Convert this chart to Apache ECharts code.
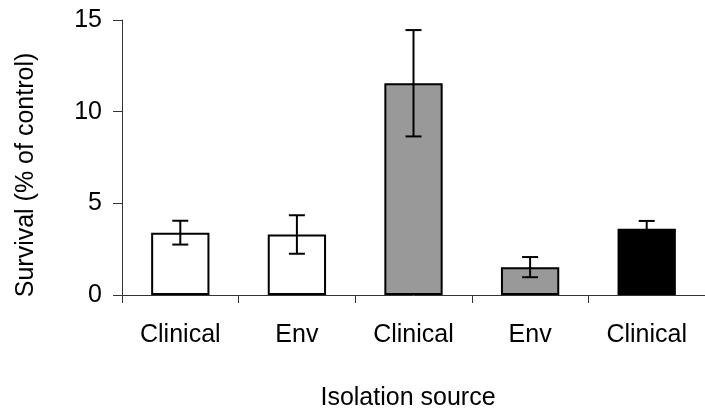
<!DOCTYPE html>
<html>
<head>
<meta charset="utf-8">
<script src="https://cdn.jsdelivr.net/npm/echarts@6/dist/echarts.min.js"></script>
<style>html,body{margin:0;padding:0;background:#fff}#c{width:705px;height:414px}</style>
</head>
<body>
<div id="c"></div>
<script>
const categories = ['Clinical', 'Env', 'Clinical', 'Env', 'Clinical'];
const values = [3.4, 3.3, 11.55, 1.52, 3.62];
const errors = [0.65, 1.05, 2.9, 0.55, 0.42];
const barColors = ['#ffffff', '#ffffff', '#999999', '#999999', '#000000'];
const yTicks = [0, 5, 10, 15];
const yTitle = 'Survival (% of control)';
const xTitle = 'Isolation source';

const font = 'Liberation Sans, Arial, sans-serif';
const chart = echarts.init(document.getElementById('c'));
chart.setOption({
  animation: false,
  backgroundColor: '#fff',
  grid: { left: 122, top: 20, width: 589, height: 275, containLabel: false },
  xAxis: {
    type: 'category',
    data: categories,
    boundaryGap: true,
    axisLine: { lineStyle: { color: '#333', width: 1 } },
    axisTick: { show: true, length: 8, interval: 0, alignWithLabel: false, lineStyle: { color: '#333' } },
    axisLabel: { color: '#000', fontSize: 25, fontFamily: font, margin: 28, interval: 0 },
    splitLine: { show: false }
  },
  yAxis: {
    type: 'value',
    min: yTicks[0], max: yTicks[yTicks.length - 1], interval: 5,
    axisLine: { show: true, lineStyle: { color: '#333', width: 1 } },
    axisTick: { show: true, length: 9, lineStyle: { color: '#333' } },
    axisLabel: { color: '#000', fontSize: 25, fontFamily: font, margin: 20 },
    splitLine: { show: false }
  },
  graphic: [
    { type: 'text', x: 408, y: 398, style: { text: xTitle, fill: '#000', font: '25px ' + font, textAlign: 'center', textVerticalAlign: 'middle' } },
    { type: 'text', x: 26, y: 175, rotation: Math.PI / 2, style: { text: yTitle, fill: '#000', font: '25px ' + font, textAlign: 'center', textVerticalAlign: 'middle' } }
  ],
  series: [
    {
      type: 'bar',
      barWidth: '50%',
      data: values.map((v, i) => ({ value: v, itemStyle: { color: barColors[i], borderColor: '#000', borderWidth: 2 } })),
      z: 2
    },
    {
      type: 'custom',
      z: 3,
      data: values.map((v, i) => [i, v - errors[i], v + errors[i]]),
      renderItem: function (params, api) {
        const x = api.value(0);
        const lo = api.coord([x, api.value(1)]);
        const hi = api.coord([x, api.value(2)]);
        const cap = 8;
        const st = { stroke: '#000', lineWidth: 2 };
        return {
          type: 'group',
          children: [
            { type: 'line', shape: { x1: hi[0], y1: hi[1], x2: lo[0], y2: lo[1] }, style: st },
            { type: 'line', shape: { x1: hi[0] - cap, y1: hi[1], x2: hi[0] + cap, y2: hi[1] }, style: st },
            { type: 'line', shape: { x1: lo[0] - cap, y1: lo[1], x2: lo[0] + cap, y2: lo[1] }, style: st }
          ]
        };
      }
    }
  ]
});
</script>
</body>
</html>
